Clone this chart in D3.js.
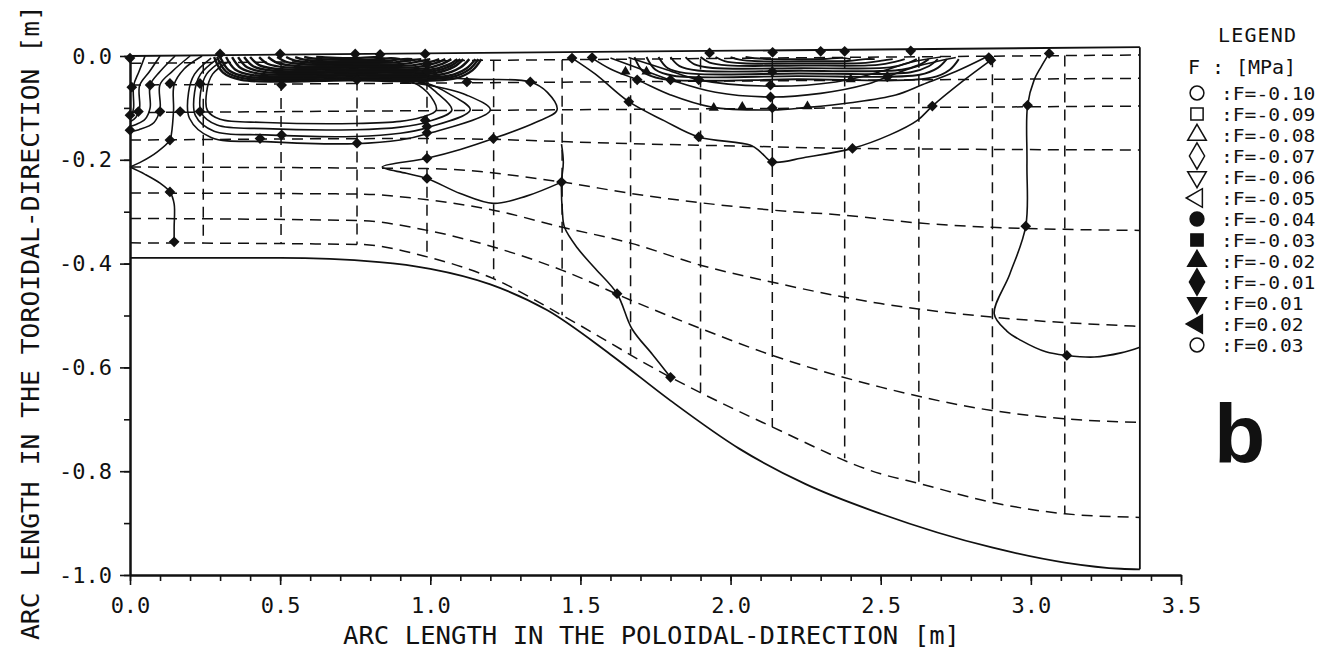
<!DOCTYPE html>
<html>
<head>
<meta charset="utf-8">
<script src="https://cdn.jsdelivr.net/npm/d3@7"></script>
<style>
  body { margin: 0; background: #fff; }
  text { font-family: 'DejaVu Sans Mono', monospace; fill: #111; }
</style>
</head>
<body>
<div id="chart"></div>
<script>
// axis ticks and labels
var xTicks = [0.0, 0.5, 1.0, 1.5, 2.0, 2.5, 3.0, 3.5]
var xTickLabels = ["0.0", "0.5", "1.0", "1.5", "2.0", "2.5", "3.0", "3.5"]
var yTicks = [0.0, -0.2, -0.4, -0.6, -0.8, -1.0]
var yTickLabels = ["0.0", "-0.2", "-0.4", "-0.6", "-0.8", "-1.0"]

// legend
var legendLabels = [":F=-0.10", ":F=-0.09", ":F=-0.08", ":F=-0.07", ":F=-0.06", ":F=-0.05",
                    ":F=-0.04", ":F=-0.03", ":F=-0.02", ":F=-0.01", ":F=0.01", ":F=0.02", ":F=0.03"]
var legendShapes = ["circle", "square", "up", "diamond", "down", "left",
                    "circle", "square", "up", "diamond", "down", "left", "circle"]
var legendFilled = [false, false, false, false, false, false, true, true, true, true, true, true, false]

// mesh: domain edges, node rows and columns
var topEdge = [[0, 0], [3.363, 0.017]]
var bottomEdge = [[0, -0.389], [0.5, -0.389], [0.83, -0.397], [1.0, -0.41], [1.2, -0.44], [1.39, -0.49],
                  [1.6, -0.575], [1.8, -0.664], [2.03, -0.757], [2.25, -0.825], [2.5, -0.882],
                  [2.87, -0.947], [3.113, -0.976], [3.3, -0.988], [3.363, -0.989]]
var row1 = [[0, -0.014], [3.363, 0.002]]
var row2 = [[0, -0.056], [3.363, -0.043]]
var row3 = [[0, -0.109], [3.363, -0.0965]]
var row4 = [[0, -0.162], [1.0, -0.159], [1.67, -0.169], [2.14, -0.175], [2.38, -0.178], [3.363, -0.181]]
var row5 = [[0, -0.214], [0.99, -0.217], [1.44, -0.243], [1.67, -0.265], [2.14, -0.297], [2.38, -0.307],
            [2.63, -0.322], [2.87, -0.33], [3.363, -0.336]]
var row6 = [[0, -0.264], [0.76, -0.266], [0.99, -0.277], [1.21, -0.297], [1.44, -0.33], [1.67, -0.361],
            [1.9, -0.403], [2.14, -0.436], [2.5, -0.477], [2.87, -0.503], [3.363, -0.521]]
var row7 = [[0, -0.313], [0.76, -0.317], [0.99, -0.336], [1.21, -0.368], [1.44, -0.413], [1.67, -0.471],
            [1.9, -0.525], [2.14, -0.577], [2.5, -0.638], [2.87, -0.683], [3.113, -0.699], [3.363, -0.706]]
var row8 = [[0, -0.36], [0.76, -0.363], [0.99, -0.387], [1.21, -0.429], [1.44, -0.5], [1.8, -0.619],
            [2.14, -0.715], [2.5, -0.805], [2.63, -0.824], [2.87, -0.86], [3.113, -0.882], [3.363, -0.889]]
var meshCols = [0.244, 0.503, 0.756, 0.989, 1.211, 1.439, 1.667, 1.9, 2.139, 2.38, 2.627, 2.872, 3.113]

// contour lines
var hook1 = [[0.05, 0], [0.03, -0.03], [0.012, -0.057], [0.012, -0.1], [0.006, -0.113], [0, -0.118]]
var hook2 = [[0.1, 0], [0.065, -0.03], [0.032, -0.057], [0.032, -0.1], [0.02, -0.118], [0, -0.127]]
var hook3 = [[0.15, 0], [0.1, -0.03], [0.067, -0.056], [0.067, -0.1], [0.05, -0.122], [0.02, -0.132], [0, -0.136]]
var hook4 = [[0.2, 0], [0.14, -0.03], [0.1, -0.055], [0.1, -0.102], [0.08, -0.128], [0.03, -0.142], [0, -0.146]]
var hook5 = [[0.24, 0], [0.18, -0.025], [0.147, -0.055], [0.145, -0.105], [0.138, -0.15], [0.133, -0.162],
             [0.09, -0.185], [0.04, -0.203], [0, -0.214]]
var hook6 = [[0, -0.214], [0.05, -0.228], [0.1, -0.245], [0.133, -0.262], [0.147, -0.285], [0.147, -0.33], [0.147, -0.358]]

var lobe1 = [[0.33, -0.01], [0.275, -0.035], [0.255, -0.07], [0.258, -0.105], [0.3, -0.122], [0.45, -0.128],
             [0.75, -0.13], [0.9, -0.126], [0.97, -0.118], [1.02, -0.104], [0.99, -0.07], [0.93, -0.048], [0.8, -0.043]]
var lobe2 = [[0.31, -0.008], [0.255, -0.035], [0.235, -0.07], [0.238, -0.11], [0.29, -0.133], [0.45, -0.14],
             [0.75, -0.142], [0.9, -0.137], [0.99, -0.127], [1.072, -0.104], [1.02, -0.07], [0.97, -0.05], [0.85, -0.045]]
var lobe3 = [[0.29, -0.006], [0.235, -0.035], [0.215, -0.07], [0.218, -0.115], [0.28, -0.145], [0.45, -0.152],
             [0.75, -0.155], [0.9, -0.149], [0.99, -0.138], [1.133, -0.104], [1.06, -0.072], [0.99, -0.053], [0.88, -0.047]]
var lobe4 = [[0.27, -0.004], [0.215, -0.035], [0.195, -0.07], [0.198, -0.12], [0.27, -0.157], [0.45, -0.165],
             [0.75, -0.169], [0.9, -0.162], [0.99, -0.15], [1.2, -0.104], [1.12, -0.075], [0.99, -0.056], [0.9, -0.05]]
var bigV = [[0.97, -0.04], [1.15, -0.045], [1.333, -0.05], [1.39, -0.07], [1.422, -0.104], [1.35, -0.128],
            [1.21, -0.159], [1.1, -0.18], [0.989, -0.197], [0.84, -0.214], [0.92, -0.226], [0.989, -0.236],
            [1.1, -0.265], [1.21, -0.284], [1.32, -0.27], [1.437, -0.243]]
var midLine = [[1.437, -0.17], [1.443, -0.205], [1.437, -0.243], [1.44, -0.3], [1.447, -0.33], [1.49, -0.37],
               [1.55, -0.41], [1.622, -0.458], [1.672, -0.526], [1.74, -0.575], [1.8, -0.619]]
var bowl1 = [[1.472, -0.004], [1.55, -0.035], [1.661, -0.088], [1.78, -0.125], [1.894, -0.156], [2.067, -0.172],
             [2.1, -0.185], [2.139, -0.204], [2.25, -0.195], [2.406, -0.178], [2.53, -0.152], [2.622, -0.124],
             [2.672, -0.0965], [2.77, -0.05], [2.867, -0.008]]
var bowl2 = [[1.539, -0.004], [1.6, -0.025], [1.689, -0.046], [1.8, -0.075], [1.933, -0.098], [2.139, -0.104],
             [2.256, -0.099], [2.4, -0.09], [2.55, -0.075], [2.64, -0.055], [2.75, -0.03], [2.845, -0.004]]
var bowl3 = [[1.6, -0.004], [1.7, -0.025], [1.8, -0.046], [1.95, -0.07], [2.133, -0.079], [2.3, -0.072],
             [2.45, -0.055], [2.522, -0.04], [2.62, -0.02], [2.75, -0.003]]
var bowl4 = [[1.66, -0.003], [1.78, -0.025], [1.894, -0.046], [2.133, -0.058], [2.35, -0.05], [2.5, -0.03],
             [2.6, -0.012], [2.7, -0.002]]
var rightLine = [[3.061, 0.005], [3.035, -0.02], [3.011, -0.046], [2.989, -0.095], [2.987, -0.207], [2.983, -0.328],
                 [2.93, -0.42], [2.878, -0.497], [2.92, -0.53], [2.967, -0.548], [3.05, -0.57], [3.12, -0.577],
                 [3.211, -0.58], [3.3, -0.572], [3.363, -0.561]]

// tightly packed contours near the wall: [start x, end x, depth]
var bandLeft = [[0.28, 1.17, 0.046], [0.29, 1.16, 0.043], [0.3, 1.15, 0.04], [0.32, 1.13, 0.037],
                [0.34, 1.11, 0.034], [0.36, 1.1, 0.031], [0.38, 1.09, 0.028], [0.4, 1.07, 0.025],
                [0.43, 1.05, 0.022], [0.46, 1.03, 0.019], [0.49, 1.0, 0.016], [0.52, 0.97, 0.013],
                [0.55, 0.94, 0.01], [0.58, 0.9, 0.007], [0.62, 0.85, 0.004]]
var bandRight = [[1.68, 2.76, 0.044], [1.72, 2.72, 0.038], [1.76, 2.69, 0.033], [1.8, 2.66, 0.028],
                 [1.85, 2.62, 0.023], [1.9, 2.58, 0.018], [1.95, 2.54, 0.014], [2.0, 2.48, 0.01],
                 [2.05, 2.4, 0.006]]

// node markers on the contours
var marksDiamond = [[0, -0.004], [0.006, -0.06], [0.067, -0.056], [0.133, -0.053], [0, -0.114], [0.028, -0.107],
  [0.1, -0.107], [0.167, -0.107], [0.233, -0.107], [0, -0.143], [0.133, -0.162], [0.133, -0.262], [0.147, -0.358],
  [0.233, -0.053], [0.3, 0.004], [0.5, 0.004], [0.75, 0.004], [0.833, 0.003], [0.983, 0.004], [0.433, -0.159],
  [0.505, -0.152], [0.756, -0.168], [0.505, -0.056], [0.756, -0.046], [0.983, -0.124], [0.989, -0.136],
  [0.989, -0.148], [0.989, -0.197], [0.989, -0.236], [1.21, -0.159], [1.333, -0.05], [1.122, -0.05],
  [0.99, -0.03], [0.99, -0.015], [1.437, -0.243], [1.622, -0.458], [1.8, -0.619],
  [1.472, -0.004], [1.661, -0.088], [1.894, -0.156], [2.139, -0.204], [2.406, -0.178], [2.672, -0.0965],
  [2.867, -0.008], [1.539, -0.003], [1.689, -0.046], [2.133, -0.079], [2.133, -0.056], [2.139, -0.1],
  [1.8, -0.046], [1.894, -0.046], [2.522, -0.04], [1.93, 0.006], [2.14, 0.007], [2.3, 0.009], [2.38, 0.009],
  [2.6, 0.01], [2.86, -0.003], [3.061, 0.005], [2.989, -0.095], [2.983, -0.328], [3.12, -0.577], [2.139, -0.03]]
var marksTriangle = [[1.944, -0.1], [2.039, -0.098], [2.256, -0.097], [1.65, -0.03], [1.72, -0.03], [2.4, -0.045]]

var width = 1331, height = 652
var ink = "#111"

var svg = d3.select("#chart").append("svg")
    .attr("width", width)
    .attr("height", height)

var x = d3.scaleLinear().domain([0, 3.5]).range([130, 1181])
var y = d3.scaleLinear().domain([-1, 0]).range([575, 56])

var smooth = d3.line().x(d => x(d[0])).y(d => y(d[1])).curve(d3.curveCatmullRom.alpha(0.5))
var monoLine = d3.line().x(d => x(d[0])).y(d => y(d[1])).curve(d3.curveMonotoneX)
var straight = d3.line().x(d => x(d[0])).y(d => y(d[1]))

function rowAt(row, xv) {
  for (var i = 1; i < row.length; i++) {
    if (xv <= row[i][0]) {
      var t = (xv - row[i - 1][0]) / (row[i][0] - row[i - 1][0])
      return row[i - 1][1] + t * (row[i][1] - row[i - 1][1])
    }
  }
  return row[row.length - 1][1]
}

// mesh (dashed)
var mesh = svg.append("g").attr("fill", "none").attr("stroke", ink)
    .attr("stroke-width", 1.5).attr("stroke-dasharray", "11,7")
;[row1, row2, row3, row4, row5, row6, row7, row8].forEach(function(r) {
  mesh.append("path").attr("d", monoLine(r))
})
meshCols.forEach(function(c) {
  mesh.append("path").attr("d", straight([[c, rowAt(row1, c)], [c, rowAt(row8, c)]]))
})

// domain edges (solid)
var edges = svg.append("g").attr("fill", "none").attr("stroke", ink).attr("stroke-width", 1.8)
edges.append("path").attr("d", straight(topEdge))
edges.append("path").attr("d", monoLine(bottomEdge))
edges.append("path").attr("d", straight([[3.363, 0.017], [3.363, -0.989]]))

// contours
var cont = svg.append("g").attr("fill", "none").attr("stroke", ink).attr("stroke-width", 1.6)
;[hook1, hook2, hook3, hook4, hook5, hook6, lobe1, lobe2, lobe3, lobe4, bigV, midLine,
  bowl1, bowl2, bowl3, bowl4, rightLine].forEach(function(c) {
  cont.append("path").attr("d", smooth(c))
})

function bandShape(b) {
  var xa = b[0], xb = b[1], d = b[2]
  return [[xa, -0.002], [xa + 0.03, -d * 0.7], [xa + 0.09, -d], [(xa + xb) / 2, -d * 1.02],
          [xb - 0.09, -d * 0.95], [xb - 0.03, -d * 0.6], [xb, -0.006]]
}
var band = svg.append("g").attr("fill", "none").attr("stroke", ink)
band.selectAll(".bl").data(bandLeft).enter().append("path")
  .attr("stroke-width", 2.4).attr("d", b => smooth(bandShape(b)))
band.selectAll(".br").data(bandRight).enter().append("path")
  .attr("stroke-width", 1.9).attr("d", b => smooth(bandShape(b)))

// markers: filled diamonds (rotated squares) and small triangles
svg.append("g").selectAll("path")
  .data(marksDiamond)
  .enter().append("path")
    .attr("d", d3.symbol().type(d3.symbolSquare).size(58))
    .attr("transform", d => "translate(" + x(d[0]) + "," + y(d[1]) + ") rotate(45)")
    .attr("fill", ink)
svg.append("g").selectAll("path")
  .data(marksTriangle)
  .enter().append("path")
    .attr("d", d3.symbol().type(d3.symbolTriangle).size(45))
    .attr("transform", d => "translate(" + x(d[0]) + "," + y(d[1]) + ")")
    .attr("fill", ink)

// axes
function styleAxis(g) {
  g.selectAll(".domain").attr("stroke", ink).attr("stroke-width", 2)
  g.selectAll(".tick line").attr("stroke", ink).attr("stroke-width", 1.6)
  g.selectAll("text").attr("font-size", 22).attr("fill", ink)
    .attr("font-family", "'DejaVu Sans Mono', monospace")
}
var minorX = d3.range(0, 36).map(i => i / 10)
var minorY = d3.range(0, 11).map(i => -i / 10)

svg.append("g").attr("transform", "translate(0," + y(-1) + ")")
  .call(d3.axisBottom(x).tickValues(minorX).tickSize(6).tickSizeOuter(0).tickFormat(""))
  .call(styleAxis)
svg.append("g").attr("transform", "translate(0," + y(-1) + ")")
  .call(d3.axisBottom(x).tickValues(xTicks).tickSize(10).tickSizeOuter(0).tickPadding(12)
    .tickFormat((d, i) => xTickLabels[i]))
  .call(styleAxis)
svg.append("g").attr("transform", "translate(" + x(0) + ",0)")
  .call(d3.axisLeft(y).tickValues(minorY).tickSize(6).tickSizeOuter(0).tickFormat(""))
  .call(styleAxis)
svg.append("g").attr("transform", "translate(" + x(0) + ",0)")
  .call(d3.axisLeft(y).tickValues(yTicks).tickSize(10).tickSizeOuter(0).tickPadding(8)
    .tickFormat((d, i) => yTickLabels[i]))
  .call(styleAxis)

// axis titles
svg.append("text")
  .attr("x", 343).attr("y", 644)
  .attr("font-size", 24)
  .attr("textLength", 617).attr("lengthAdjust", "spacingAndGlyphs")
  .text("ARC LENGTH IN THE POLOIDAL-DIRECTION [m]")
svg.append("text")
  .attr("transform", "translate(39,640) rotate(-90)")
  .attr("font-size", 24)
  .attr("textLength", 635).attr("lengthAdjust", "spacingAndGlyphs")
  .text("ARC LENGTH IN THE TOROIDAL-DIRECTION [m]")

// legend
svg.append("text").attr("x", 1257).attr("y", 42).attr("text-anchor", "middle")
  .attr("font-size", 20).attr("textLength", 78).text("LEGEND")
svg.append("text").attr("x", 1188).attr("y", 74)
  .attr("font-size", 20).attr("textLength", 108).text("F : [MPa]")

var symType = {circle: d3.symbolCircle, square: d3.symbolSquare, up: d3.symbolTriangle,
               diamond: d3.symbolDiamond, down: d3.symbolTriangle, left: d3.symbolTriangle}
var symRot = {circle: 0, square: 0, up: 0, diamond: 0, down: 180, left: -90}

var leg = svg.append("g").selectAll("g")
  .data(legendLabels)
  .enter().append("g")
    .attr("transform", (d, i) => "translate(0," + (93 + i * 21) + ")")
leg.append("path")
  .attr("d", (d, i) => d3.symbol().type(symType[legendShapes[i]])
      .size(legendShapes[i] == "diamond" ? 200 : 150)())
  .attr("transform", (d, i) => "translate(1197,0) rotate(" + symRot[legendShapes[i]] + ")")
  .attr("fill", (d, i) => legendFilled[i] ? ink : "none")
  .attr("stroke", ink).attr("stroke-width", 1.5)
leg.append("text")
  .attr("x", 1221).attr("y", 7)
  .attr("font-size", 18)
  .attr("textLength", (d) => d.length * 11.8)
  .attr("lengthAdjust", "spacingAndGlyphs")
  .text(d => d)

// panel letter
svg.append("text").attr("x", 1214).attr("y", 463)
  .style("font-family", "'Liberation Sans', Arial, sans-serif")
  .attr("font-weight", "bold").attr("font-size", 84)
  .text("b")
</script>
</body>
</html>
